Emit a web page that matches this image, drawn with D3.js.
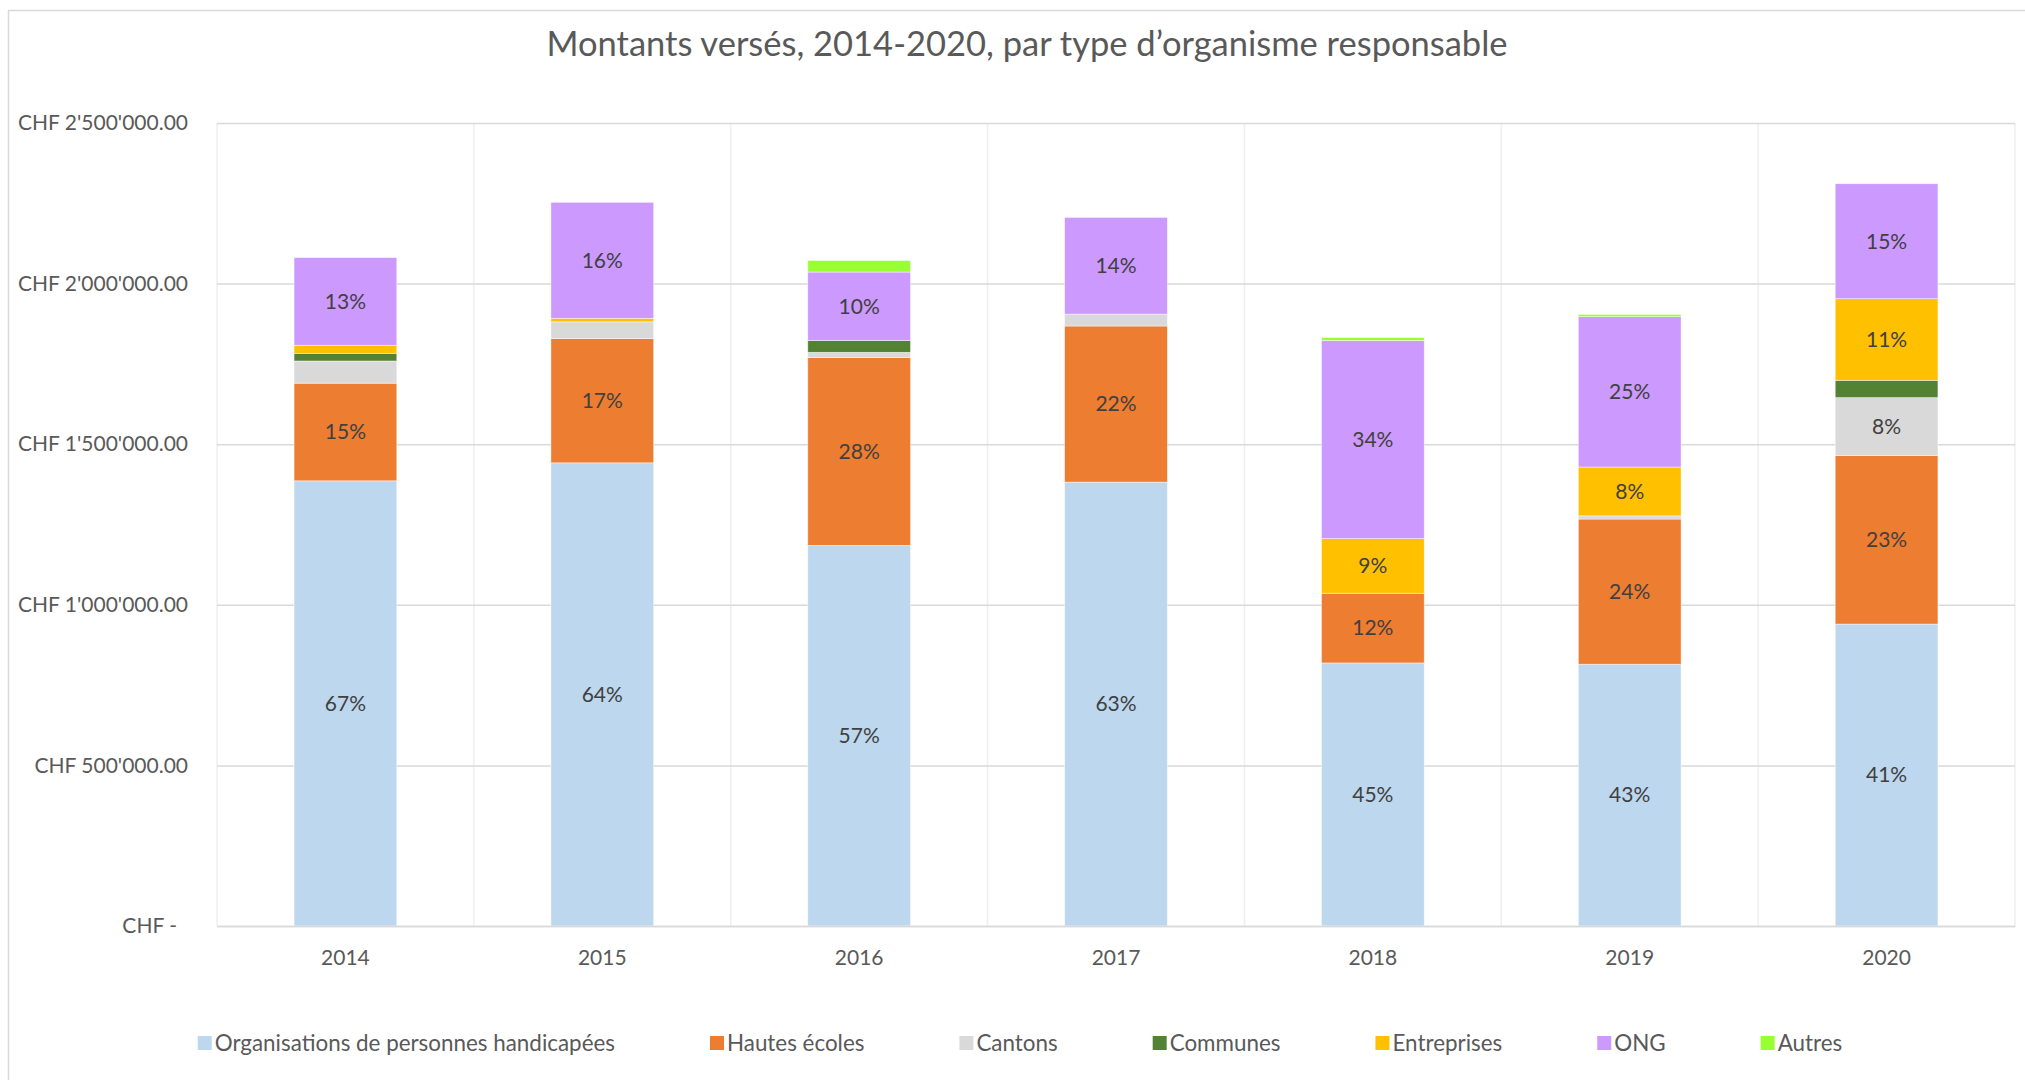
<!DOCTYPE html>
<html lang="fr">
<head>
    <meta charset="UTF-8">
    <script src="https://d3js.org/d3.v7.min.js" charset="utf-8"></script>
    <title>Montants versés</title>
    <style>
        body { margin: 0; background: #fff; }
        svg text { font-family: Lato, "Open Sans", sans-serif; }
    </style>
</head>
<body>
    <div id="chart"></div>

    <script>
        const svgWidth = 2025;
        const svgHeight = 1080;

        // years on the x axis
        const years = ["2014", "2015", "2016", "2017", "2018", "2019", "2020"];

        // amounts (CHF) per type of organisation, one value per year
        const orgHandicap = [1386000, 1442000, 1185000, 1382000, 819000, 815000, 940000];
        const hautesEcoles = [304000, 387000, 585000, 486000, 217000, 452000, 525000];
        const cantons = [69000, 52000, 16000, 37000, 0, 10000, 180000];
        const communes = [24000, 0, 37000, 0, 0, 0, 54000];
        const entreprises = [25000, 11000, 0, 0, 170000, 152000, 254000];
        const ong = [273000, 361000, 213000, 301000, 617000, 468000, 358000];
        const autres = [0, 0, 36000, 0, 9000, 7000, 0];

        const seriesNames = ["Organisations de personnes handicapées", "Hautes écoles", "Cantons",
            "Communes", "Entreprises", "ONG", "Autres"];
        const seriesValues = [orgHandicap, hautesEcoles, cantons, communes, entreprises, ong, autres];
        const seriesColors = ["#BDD7EE", "#ED7D31", "#D9D9D9", "#548235", "#FFC000", "#CC99FF", "#99FF33"];

        const yTicks = [0, 500000, 1000000, 1500000, 2000000, 2500000];

        const margin = { top: 123, right: 10, bottom: 154, left: 217 };

        // build the rows for d3.stack
        const table = years.map((y, i) => {
            const row = { year: y };
            seriesNames.forEach((s, j) => row[s] = seriesValues[j][i]);
            return row;
        });
        const totals = years.map((y, i) => d3.sum(seriesValues, arr => arr[i]));

        const svg = d3.select("#chart").append("svg")
            .attr("width", svgWidth)
            .attr("height", svgHeight);

        // outer chart frame
        svg.append("rect")
            .attr("x", 8.5).attr("y", 10.5)
            .attr("width", 2100).attr("height", 1200)
            .attr("fill", "none")
            .attr("stroke", "#d9d9d9")
            .attr("stroke-width", 1.5);

        const x = d3.scaleBand()
            .domain(years)
            .range([margin.left, svgWidth - margin.right])
            .paddingInner(0.6)
            .paddingOuter(0.3);

        const y = d3.scaleLinear()
            .domain([0, 2500000])
            .range([svgHeight - margin.bottom, margin.top]);

        const chf = d3.formatLocale({ decimal: ".", thousands: "'", grouping: [3], currency: ["CHF ", ""] });
        const fmt = chf.format(",.2f");

        // vertical gridlines at the category boundaries
        const step = x.step();
        const bounds = d3.range(years.length + 1).map(i => margin.left + i * step);
        svg.append("g").selectAll("line")
            .data(bounds)
            .join("line")
            .attr("x1", d => d).attr("x2", d => d)
            .attr("y1", y(2500000)).attr("y2", y(0))
            .attr("stroke", "#efefef")
            .attr("stroke-width", 1.5);

        // y axis with horizontal gridlines
        const yAxis = svg.append("g")
            .attr("transform", `translate(${margin.left},0)`)
            .call(d3.axisLeft(y)
                .tickValues(yTicks)
                .tickSize(-(svgWidth - margin.right - margin.left))
                .tickPadding(29)
                .tickFormat(d => d === 0 ? "CHF -" : "CHF " + fmt(d)));
        yAxis.select(".domain").remove();
        yAxis.selectAll(".tick line")
            .attr("stroke", "#d9d9d9")
            .attr("stroke-width", 1.5);
        yAxis.selectAll(".tick text")
            .attr("fill", "#595959")
            .style("font-size", "21px")
            .attr("dx", d => d === 0 ? -11 : 0);

        // stacked bars
        const stacked = d3.stack().keys(seriesNames)(table);

        const layers = svg.append("g").selectAll("g")
            .data(stacked)
            .join("g")
            .attr("fill", (d, i) => seriesColors[i]);

        layers.selectAll("rect")
            .data(d => d.filter(p => p[1] - p[0] > 0))
            .join("rect")
            .attr("x", d => x(d.data.year))
            .attr("width", x.bandwidth())
            .attr("y", d => y(d[1]))
            .attr("height", d => y(d[0]) - y(d[1]))
            .attr("stroke", "#ffffff")
            .attr("stroke-opacity", 0.6)
            .attr("stroke-width", 0.75);

        // percent labels
        layers.selectAll("text")
            .data(d => d.filter(p => (p[1] - p[0]) / totals[years.indexOf(p.data.year)] >= 0.07))
            .join("text")
            .attr("x", d => x(d.data.year) + x.bandwidth() / 2)
            .attr("y", d => (y(d[0]) + y(d[1])) / 2)
            .attr("dy", "0.35em")
            .attr("text-anchor", "middle")
            .attr("fill", "#404040")
            .style("font-size", "21px")
            .text(d => Math.round((d[1] - d[0]) / totals[years.indexOf(d.data.year)] * 100) + "%");

        // x axis
        const xAxis = svg.append("g")
            .attr("transform", `translate(0,${y(0)})`)
            .call(d3.axisBottom(x).tickSize(0).tickPadding(24));
        xAxis.select(".domain")
            .attr("stroke", "#d9d9d9")
            .attr("stroke-width", 1.5);
        xAxis.selectAll(".tick text")
            .attr("fill", "#595959")
            .style("font-size", "21px");

        // title
        svg.append("text")
            .attr("x", 1027)
            .attr("y", 56)
            .attr("text-anchor", "middle")
            .attr("fill", "#595959")
            .style("font-size", "34.5px")
            .text("Montants versés, 2014-2020, par type d’organisme responsable");

        // legend, laid out from measured text widths and centred
        const legend = svg.append("g");
        const items = legend.selectAll("g")
            .data(seriesNames)
            .join("g");
        items.append("rect")
            .attr("width", 14).attr("height", 14)
            .attr("y", -7)
            .attr("fill", (d, i) => seriesColors[i]);
        items.append("text")
            .attr("x", 17)
            .attr("dy", "0.35em")
            .attr("fill", "#595959")
            .style("font-size", "22.4px")
            .text(d => d);
        let cursor = 0;
        items.each(function () {
            const w = 17 + d3.select(this).select("text").node().getComputedTextLength();
            d3.select(this).attr("transform", `translate(${cursor},0)`);
            cursor += w + 95;
        });
        const legendWidth = cursor - 95;
        legend.attr("transform", `translate(${1020 - legendWidth / 2},1043)`);
    </script>
</body>
</html>
